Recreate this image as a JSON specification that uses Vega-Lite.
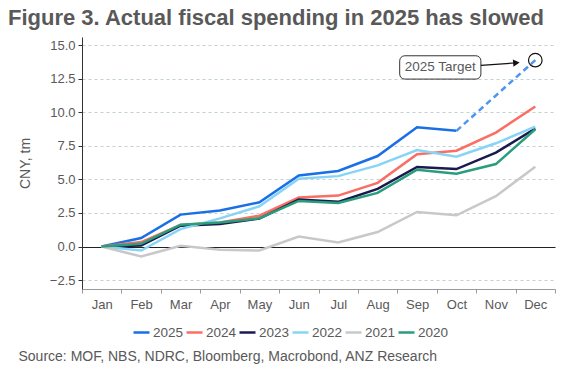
{
  "$schema": "https://vega.github.io/schema/vega-lite/v6.json",
  "width": 473,
  "height": 252,
  "autosize": {"type": "none"},
  "padding": {"left": 82, "top": 37, "right": 9, "bottom": 83},
  "background": "white",
  "config": {"font": "Liberation Sans", "view": {"stroke": null}},
  "title": {
    "text": "Figure 3. Actual fiscal spending in 2025 has slowed",
    "anchor": "start",
    "frame": "group",
    "dx": -74,
    "dy": 22,
    "offset": 12,
    "baseline": "alphabetic",
    "fontSize": 22,
    "fontWeight": "bold",
    "color": "#595959",
    "font": "Liberation Sans"
  },
  "datasets": {
    "lines": [
      {"year": "2025", "m": 1, "v": 0}, {"year": "2025", "m": 2, "v": 0.63}, {"year": "2025", "m": 3, "v": 2.38}, {"year": "2025", "m": 4, "v": 2.68}, {"year": "2025", "m": 5, "v": 3.3}, {"year": "2025", "m": 6, "v": 5.3}, {"year": "2025", "m": 7, "v": 5.63}, {"year": "2025", "m": 8, "v": 6.75}, {"year": "2025", "m": 9, "v": 8.9}, {"year": "2025", "m": 10, "v": 8.63},
      {"year": "2024", "m": 1, "v": 0}, {"year": "2024", "m": 2, "v": 0.33}, {"year": "2024", "m": 3, "v": 1.6}, {"year": "2024", "m": 4, "v": 1.8}, {"year": "2024", "m": 5, "v": 2.3}, {"year": "2024", "m": 6, "v": 3.65}, {"year": "2024", "m": 7, "v": 3.8}, {"year": "2024", "m": 8, "v": 4.75}, {"year": "2024", "m": 9, "v": 6.88}, {"year": "2024", "m": 10, "v": 7.15}, {"year": "2024", "m": 11, "v": 8.5}, {"year": "2024", "m": 12, "v": 10.45},
      {"year": "2023", "m": 1, "v": 0}, {"year": "2023", "m": 2, "v": 0.08}, {"year": "2023", "m": 3, "v": 1.55}, {"year": "2023", "m": 4, "v": 1.68}, {"year": "2023", "m": 5, "v": 2.08}, {"year": "2023", "m": 6, "v": 3.5}, {"year": "2023", "m": 7, "v": 3.33}, {"year": "2023", "m": 8, "v": 4.3}, {"year": "2023", "m": 9, "v": 5.93}, {"year": "2023", "m": 10, "v": 5.78}, {"year": "2023", "m": 11, "v": 7.0}, {"year": "2023", "m": 12, "v": 8.8},
      {"year": "2022", "m": 1, "v": 0}, {"year": "2022", "m": 2, "v": -0.3}, {"year": "2022", "m": 3, "v": 1.3}, {"year": "2022", "m": 4, "v": 2.1}, {"year": "2022", "m": 5, "v": 3.0}, {"year": "2022", "m": 6, "v": 5.05}, {"year": "2022", "m": 7, "v": 5.25}, {"year": "2022", "m": 8, "v": 6.05}, {"year": "2022", "m": 9, "v": 7.2}, {"year": "2022", "m": 10, "v": 6.7}, {"year": "2022", "m": 11, "v": 7.7}, {"year": "2022", "m": 12, "v": 8.95},
      {"year": "2021", "m": 1, "v": 0}, {"year": "2021", "m": 2, "v": -0.75}, {"year": "2021", "m": 3, "v": 0.05}, {"year": "2021", "m": 4, "v": -0.25}, {"year": "2021", "m": 5, "v": -0.3}, {"year": "2021", "m": 6, "v": 0.75}, {"year": "2021", "m": 7, "v": 0.3}, {"year": "2021", "m": 8, "v": 1.08}, {"year": "2021", "m": 9, "v": 2.58}, {"year": "2021", "m": 10, "v": 2.33}, {"year": "2021", "m": 11, "v": 3.75}, {"year": "2021", "m": 12, "v": 5.95},
      {"year": "2020", "m": 1, "v": 0}, {"year": "2020", "m": 2, "v": 0.2}, {"year": "2020", "m": 3, "v": 1.63}, {"year": "2020", "m": 4, "v": 1.8}, {"year": "2020", "m": 5, "v": 2.1}, {"year": "2020", "m": 6, "v": 3.4}, {"year": "2020", "m": 7, "v": 3.25}, {"year": "2020", "m": 8, "v": 4.0}, {"year": "2020", "m": 9, "v": 5.73}, {"year": "2020", "m": 10, "v": 5.43}, {"year": "2020", "m": 11, "v": 6.15}, {"year": "2020", "m": 12, "v": 8.75}
    ],
    "projection": [{"m": 10, "v": 8.63}, {"m": 12, "v": 13.9}],
    "box": [{"m": 8.56, "m2": 10.62, "v": 12.49, "v2": 14.23}],
    "label": [{"m": 9.59, "v": 13.36, "label": "2025 Target"}],
    "arrow": [{"m": 10.62, "v": 13.51}, {"m": 11.55, "v": 13.71}],
    "head": [{"m": 11.52, "v": 13.7}],
    "target": [{"m": 12, "v": 13.9}]
  },
  "encoding": {
    "x": {
      "field": "m",
      "type": "quantitative",
      "scale": {"domain": [0.5, 12.5], "nice": false, "zero": false},
      "axis": {
        "title": "Source: MOF, NBS, NDRC, Bloomberg, Macrobond, ANZ Research",
        "values": [0.5, 1, 1.5, 2, 2.5, 3, 3.5, 4, 4.5, 5, 5.5, 6, 6.5, 7, 7.5, 8, 8.5, 9, 9.5, 10, 10.5, 11, 11.5, 12, 12.5],
        "labelExpr": "datum.value % 1 == 0 ? ['Jan','Feb','Mar','Apr','May','Jun','Jul','Aug','Sep','Oct','Nov','Dec'][datum.value - 1] : ''",
        "grid": false,
        "domainColor": "#999999",
        "tickColor": {"condition": {"test": "datum.value % 1 == 0", "value": "transparent"}, "value": "#999999"},
        "tickSize": 4,
        "labelFontSize": 13,
        "labelColor": "#595959",
        "labelPadding": 5,
        "labelOverlap": false,
        "labelFlush": false,
        "titleX": -64,
        "titleY": 71,
        "titleAlign": "left",
        "titleAnchor": "start",
        "titleBaseline": "alphabetic",
        "titleFontSize": 14,
        "titleFontWeight": "normal",
        "titleColor": "#595959"
      }
    },
    "y": {
      "field": "v",
      "type": "quantitative",
      "scale": {"domain": [-3.17, 15.63], "nice": false, "zero": false},
      "axis": {
        "title": "CNY, tm",
        "values": [-2.5, 0, 2.5, 5, 7.5, 10, 12.5, 15],
        "format": ".1f",
        "gridColor": {"condition": {"test": "datum.value == 0", "value": "#222222"}, "value": "#c3d0d6"},
        "gridDash": {"condition": {"test": "datum.value == 0", "value": []}, "value": [3, 3]},
        "gridWidth": 1,
        "domainColor": "#333333",
        "tickColor": "#333333",
        "tickSize": 4,
        "labelFontSize": 13,
        "labelColor": "#595959",
        "labelPadding": 3,
        "titleX": -57,
        "titleY": 126,
        "titleAngle": -90,
        "titleAlign": "center",
        "titleBaseline": "middle",
        "titleFontSize": 14,
        "titleFontWeight": "normal",
        "titleColor": "#595959"
      }
    }
  },
  "layer": [
    {
      "data": {"name": "lines"},
      "mark": {"type": "line", "strokeWidth": 2.5},
      "encoding": {
        "color": {
          "field": "year",
          "type": "nominal",
          "scale": {
            "domain": ["2025", "2024", "2023", "2022", "2021", "2020"],
            "range": ["#1a6fe6", "#fa6e64", "#1b1a4f", "#87d4f7", "#c8c8c8", "#2a9d7c"]
          },
          "legend": {
            "orient": "none",
            "legendX": 50,
            "legendY": 286,
            "direction": "horizontal",
            "title": null,
            "symbolType": "stroke",
            "symbolSize": 256,
            "symbolStrokeWidth": 2.5,
            "labelFontSize": 13.5,
            "labelColor": "#595959",
            "labelOffset": 2,
            "columnPadding": -3,
            "padding": 0
          }
        }
      }
    },
    {
      "data": {"name": "projection"},
      "mark": {"type": "line", "strokeWidth": 2.5, "color": "#4b97ef", "strokeDash": [6, 4]},
      "encoding": {}
    },
    {
      "data": {"name": "box"},
      "mark": {"type": "rect", "fill": "white", "stroke": "#333333", "strokeWidth": 1, "cornerRadius": 5},
      "encoding": {"x2": {"field": "m2"}, "y2": {"field": "v2"}}
    },
    {
      "data": {"name": "label"},
      "mark": {"type": "text", "fontSize": 13.5, "color": "#595959", "align": "center", "baseline": "middle"},
      "encoding": {"text": {"field": "label"}}
    },
    {
      "data": {"name": "arrow"},
      "mark": {"type": "line", "strokeWidth": 1.2, "color": "#111111"},
      "encoding": {}
    },
    {
      "data": {"name": "head"},
      "mark": {"type": "point", "shape": "triangle-right", "filled": true, "color": "#111111", "size": 55, "angle": -5, "opacity": 1},
      "encoding": {}
    },
    {
      "data": {"name": "target"},
      "mark": {"type": "point", "shape": "circle", "filled": false, "color": "#111111", "strokeWidth": 1.2, "size": 184, "opacity": 1},
      "encoding": {}
    }
  ]
}
